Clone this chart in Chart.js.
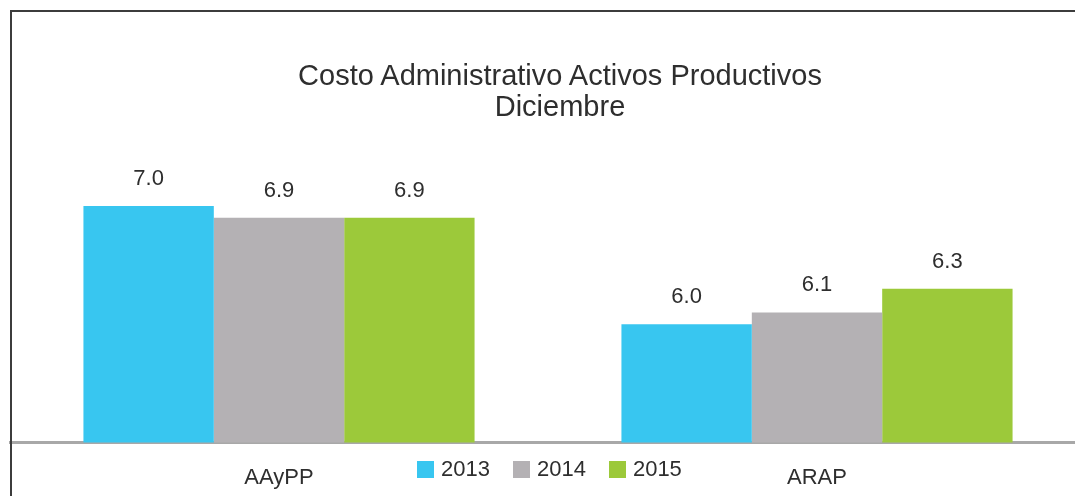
<!DOCTYPE html>
<html>
<head>
<meta charset="utf-8">
<script src="https://cdn.jsdelivr.net/npm/chart.js@4/dist/chart.umd.min.js"></script>
<style>
  html, body { margin: 0; padding: 0; background: #fff; overflow: hidden; }
  body { width: 1075px; height: 496px; position: relative; font-family: "Liberation Sans", Arial, sans-serif; }
  #wrap { position: absolute; left: 0; top: 0; width: 1100px; height: 517px; }
  #frame { position: absolute; left: 10px; top: 10px; width: 1100px; height: 500px;
           border-left: 2px solid #3c3c3c; border-top: 2px solid #3c3c3c; pointer-events: none; }
  #title { position: absolute; left: 260px; width: 600px; top: 60px; text-align: center;
           font-size: 29px; line-height: 31px; color: #2e2e2e; }
  #legend { position: absolute; left: 417px; top: 456px; display: flex; align-items: center;
            font-size: 22px; color: #2e2e2e; }
  #legend span.box { display: inline-block; width: 17px; height: 17px; margin-right: 7px; }
  #legend span.item { display: flex; align-items: center; margin-right: 23px; }
</style>
</head>
<body>
<div id="wrap"><canvas id="costChart"></canvas></div>
<div id="title">Costo Administrativo Activos Productivos<br>Diciembre</div>
<div id="legend"></div>
<div id="frame"></div>
<script>
const categories = ['AAyPP', 'ARAP'];
const years = ['2013', '2014', '2015'];
const values2013 = [7.0, 6.0];
const values2014 = [6.9, 6.1];
const values2015 = [6.9, 6.3];
const colors = ['#38c6f0', '#b4b1b4', '#9cc93a'];

const seriesValues = [values2013, values2014, values2015];

// legend in html, same row as the category labels
let legend = document.getElementById('legend');
years.forEach((y, i) => {
    let item = document.createElement('span');
    item.className = 'item';
    item.innerHTML = '<span class="box" style="background:' + colors[i] + '"></span>' + y;
    legend.appendChild(item);
});

// value labels above each bar
const barLabels = {
    id: 'barLabels',
    afterDatasetsDraw(chart) {
        let ctx = chart.ctx;
        ctx.save();
        ctx.font = '22px "Liberation Sans", Arial, sans-serif';
        ctx.fillStyle = '#2e2e2e';
        ctx.textAlign = 'center';
        ctx.textBaseline = 'alphabetic';
        chart.data.datasets.forEach((ds, i) => {
            chart.getDatasetMeta(i).data.forEach((bar, j) => {
                ctx.fillText(ds.data[j].toFixed(1), bar.x, bar.y - 21);
            });
        });
        ctx.restore();
    }
};

let costChartCtx = document.getElementById('costChart').getContext('2d');
let costChart = new Chart(costChartCtx, {
    type: 'bar',
    data: {
        labels: categories,
        datasets: years.map((y, i) => ({
            label: y,
            data: seriesValues[i],
            backgroundColor: colors[i],
            borderWidth: 0,
            categoryPercentage: 0.727,
            barPercentage: 1.0
        }))
    },
    options: {
        responsive: true,
        maintainAspectRatio: false,
        animation: false,
        layout: { padding: { left: 10, right: 14, top: 135, bottom: 4 } },
        plugins: {
            legend: { display: false },
            title: { display: false },
            tooltip: { enabled: false }
        },
        scales: {
            x: {
                grid: { display: false, drawTicks: false },
                border: { display: true, color: '#a8a8a8', width: 3 },
                ticks: {
                    color: '#2e2e2e',
                    padding: 22,
                    font: { family: '"Liberation Sans", Arial, sans-serif', size: 22 }
                }
            },
            y: {
                display: false,
                min: 5,
                max: 7.6
            }
        }
    },
    plugins: [barLabels]
});
</script>
</body>
</html>
